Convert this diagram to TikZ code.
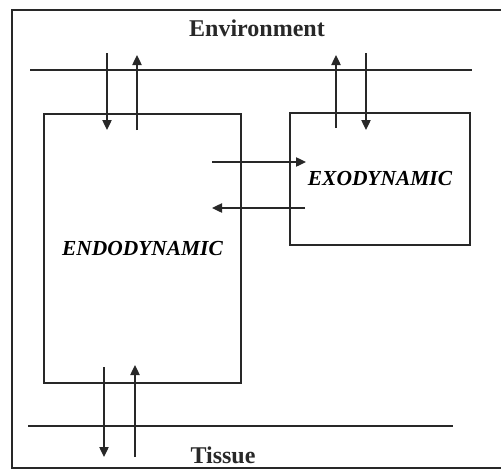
\documentclass[tikz,border=0pt]{standalone}
\usepackage{fontspec}
\setmainfont{Liberation Serif}
\usetikzlibrary{arrows.meta,positioning}
\definecolor{ink}{RGB}{40,40,40}
\tikzset{
  sysbox/.style={draw=ink,line width=1.1pt,inner sep=0pt,font=\fontsize{18.3}{21}\selectfont\bfseries\itshape},
  lab/.style={font=\fontsize{20.5}{24}\selectfont\bfseries,text=ink,inner sep=0pt},
  border/.style={draw=ink,line width=0.9pt},
  flux/.style={-{Triangle[length=3mm,width=2.8mm]},line width=1.1pt,draw=ink}
}

\begin{document}
\begin{tikzpicture}[x=0.03cm,y=-0.03cm]
  \useasboundingbox (0,0) rectangle (501,469);
  % frame and the two boundaries
  \draw[ink,line width=2pt] (505,10) -- (12,10) -- (12,468) -- (505,468);
  \draw[border] (30,70) -- (472,70);
  \draw[border] (28,426) -- (453,426);
  \node[lab] (envlabel) at (257,28) {Environment};
  \node[lab] (tissuelabel) at (223,455) {Tissue};
  % compartments
  \node[sysbox,minimum width=5.91cm,minimum height=8.07cm] (endo) at (142.5,248.5) {ENDODYNAMIC};
  \node[sysbox,minimum width=5.4cm,minimum height=3.96cm] (exo) at (380,179) {EXODYNAMIC};
  % flux ends
  \coordinate (envinA) at (107,53);   \coordinate (endoinA) at (107,130);
  \coordinate (endooutA) at (137,130); \coordinate (envoutA) at (137,55);
  \coordinate (exooutB) at (336,128);  \coordinate (envoutB) at (336,55);
  \coordinate (envinB) at (366,53);    \coordinate (exoinB) at (366,130);
  \coordinate (endoR) at (212,162);    \coordinate (exoL) at (306,162);
  \coordinate (exoR) at (305,208);     \coordinate (endoL) at (212,208);
  \coordinate (endodn) at (104,367);   \coordinate (tisdn) at (104,457);
  \coordinate (tisup) at (135,457);    \coordinate (endoup) at (135,365);
  \draw[flux] (envinA) -- (endoinA);
  \draw[flux] (endooutA) -- (envoutA);
  \draw[flux] (exooutB) -- (envoutB);
  \draw[flux] (envinB) -- (exoinB);
  \draw[flux] (endoR) -- (exoL);
  \draw[flux] (exoR) -- (endoL);
  \draw[flux] (endodn) -- (tisdn);
  \draw[flux] (tisup) -- (endoup);
\end{tikzpicture}
\end{document}
